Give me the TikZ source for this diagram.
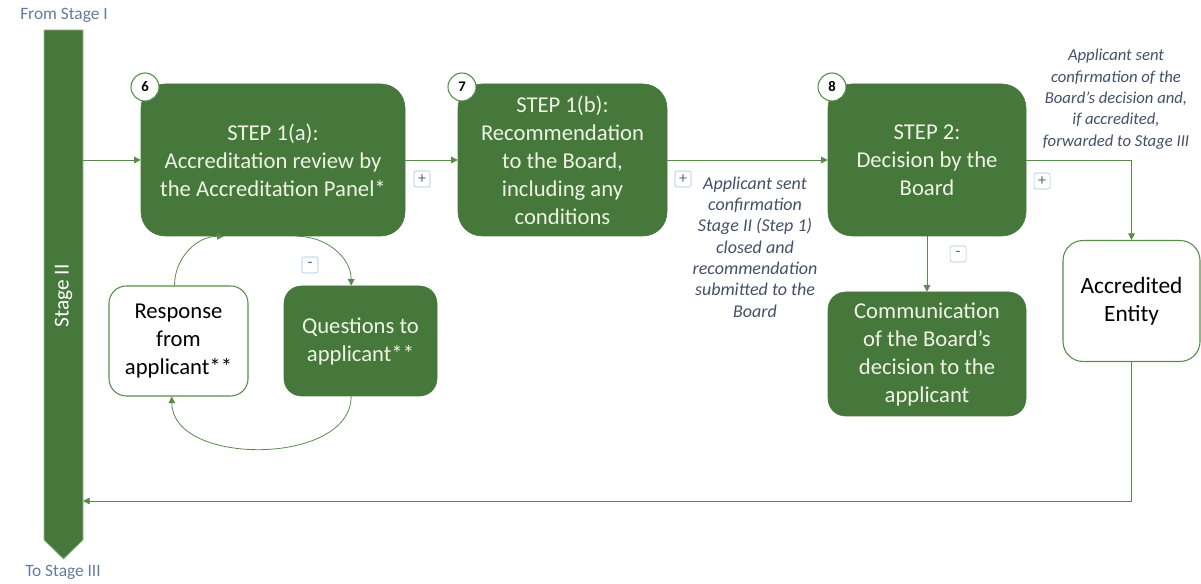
\documentclass[tikz,border=0pt]{standalone}
\usepackage{fontspec}
\setmainfont{Carlito}
\usetikzlibrary{arrows.meta,positioning}
\definecolor{boxgreen}{RGB}{70,120,60}
\definecolor{linegreen}{RGB}{88,140,74}
\definecolor{notegray}{RGB}{68,80,104}
\definecolor{stagegray}{RGB}{100,122,160}
\definecolor{btnblue}{RGB}{160,190,230}
\definecolor{boxtext}{RGB}{238,243,228}
\tikzset{
  stepbox/.style={fill=boxgreen, draw=boxgreen, rounded corners=18pt, text=boxtext, align=center,
    font=\fontsize{17}{21}\selectfont, minimum height=114pt, inner sep=2pt},
  subbox/.style={fill=boxgreen, draw=boxgreen, rounded corners=13pt, text=boxtext, align=center,
    font=\fontsize{17}{21}\selectfont, inner sep=2pt},
  openbox/.style={fill=white, draw=linegreen, line width=0.8pt, rounded corners=13pt, text=black,
    align=center, font=\fontsize{17}{21}\selectfont, inner sep=2pt},
  numcirc/.style={circle, fill=white, draw=linegreen, line width=0.8pt, minimum size=21pt, inner sep=0pt,
    font=\bfseries\fontsize{11}{12}\selectfont},
  btn/.style={draw=btnblue, fill=white, rounded corners=1.5pt, minimum size=12pt, inner sep=0pt,
    text=black!60, font=\fontsize{12}{12}\selectfont},
  note/.style={text=notegray, align=center, font=\itshape\fontsize{13.5}{16}\selectfont},
  arr/.style={draw=linegreen, line width=0.6pt, -{Triangle[length=5pt,width=5pt]}},
}

\begin{document}
\begin{tikzpicture}[x=0.75pt,y=0.75pt]
  \useasboundingbox (0,0) rectangle (1201,584);

  % stage bar
  \fill[boxgreen, draw=linegreen!60, line width=0.6pt] (44,554) -- (83,554) -- (83,44) -- (63.5,25) -- (44,44) -- cycle;
  \node[text=white, rotate=90, font=\fontsize{16}{16}\selectfont] (stage) at (63.5,288) {Stage II};
  \node[text=stagegray, font=\fontsize{13}{14}\selectfont] (fromI) at (64,569) {From Stage I};
  \node[text=stagegray, font=\fontsize{13}{14}\selectfont] (toIII) at (63,12) {To Stage III};
  \coordinate (barin) at (83,424);
  \coordinate (barout) at (83,83);

  % steps
  \node[stepbox, minimum width=198pt] (s1a) at (273,424) {STEP 1(a):\\Accreditation review by\\the Accreditation Panel*};
  \node[stepbox, minimum width=156.75pt] (s1b) at (562.5,424) {STEP 1(b):\\Recommendation\\to the Board,\\including any\\conditions};
  \node[stepbox, minimum width=148.5pt] (s2) at (927,424) {STEP 2:\\Decision by the\\Board};
  \node[numcirc] (n6) at (145,497) {6};
  \node[numcirc] (n7) at (462,497) {7};
  \node[numcirc] (n8) at (832,497) {8};

  \node[openbox, minimum width=104.25pt, minimum height=82.5pt] (resp) at (178.5,243) {Response\\from\\applicant**};
  \node[subbox, minimum width=114.75pt, minimum height=82.5pt] (quest) at (360.5,243) {Questions to\\applicant**};
  \node[subbox, minimum width=148.5pt, minimum height=93pt] (comm) at (927,230) {Communication\\of the Board’s\\decision to the\\applicant};
  \node[openbox, rounded corners=15pt, minimum width=102.75pt, minimum height=90.75pt,
    font=\fontsize{17.5}{21}\selectfont] (acc) at (1131.5,283) {Accredited\\Entity};

  % buttons
  \node[btn] (p1) at (422,405) {+};
  \node[btn] (p2) at (683,405) {+};
  \node[btn] (p3) at (1042,403) {+};
  \node[btn] (m1) at (310,319) {-};
  \node[btn] (m2) at (958,330) {-};

  % notes
  \node[note] (note1) at (755,337) {Applicant sent\\confirmation\\Stage II (Step 1)\\closed and\\recommendation\\submitted to the\\Board};
  \node[note, font=\itshape\fontsize{12.5}{16}\selectfont] (note2) at (1116,485) {Applicant sent\\confirmation of the\\Board’s decision and,\\if accredited,\\forwarded to Stage III};

  % connectors
  \draw[arr] (barin) -- (s1a);
  \draw[arr] (s1a) -- (s1b);
  \draw[arr] (s1b) -- (s2);
  \draw[arr] (s2.east) -| (acc.north);
  \draw[arr] (s2) -- (comm);
  \draw[arr] (acc.south) |- (barout);
  \draw[arr] ([xshift=18pt]s1a.south) to[out=0,in=90] ([xshift=-7pt]quest.north);
  \draw[arr] ([xshift=-7pt]quest.south) to[out=-90,in=-90] ([xshift=-5pt]resp.south);
  \draw[arr] ([xshift=-3pt]resp.north) to[out=90,in=180] ([xshift=-37pt]s1a.south);
\end{tikzpicture}
\end{document}
